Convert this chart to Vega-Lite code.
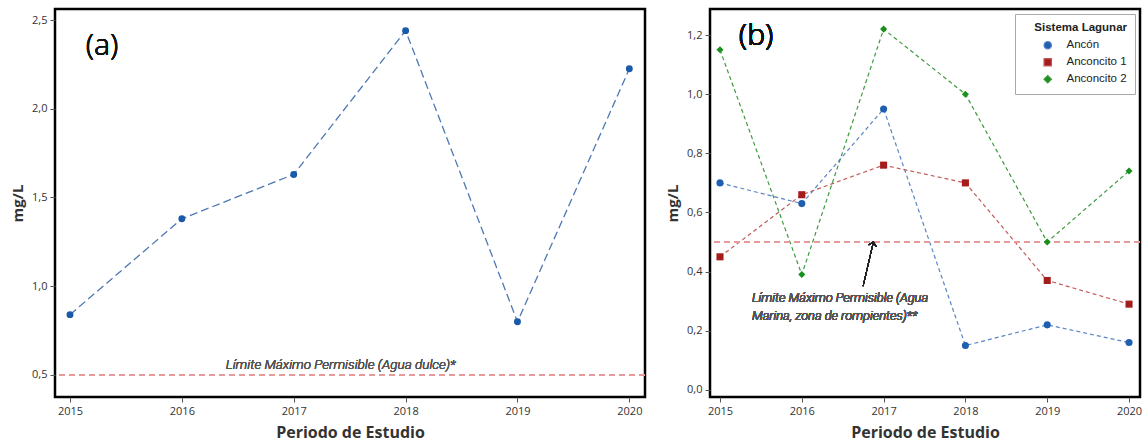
{
  "$schema": "https://vega.github.io/schema/vega-lite/v6.json",
  "background": "white",
  "padding": {"left": 9, "top": 7, "right": 4, "bottom": 2},
  "spacing": 17,
  "resolve": {
    "scale": {"fill": "independent", "stroke": "independent", "shape": "independent"},
    "legend": {"fill": "independent", "stroke": "independent", "shape": "independent"}
  },
  "config": {
    "view": {"stroke": "black", "strokeWidth": 2.5},
    "axis": {
      "grid": false,
      "domain": false,
      "tickColor": "#555",
      "tickSize": 5,
      "labelPadding": 3,
      "labelFont": "Open Sans",
      "labelFontSize": 11,
      "labelColor": "#333",
      "titleFont": "Open Sans",
      "titleFontWeight": "bold",
      "titleColor": "#333"
    },
    "axisX": {"titleFontSize": 16, "titlePadding": 8},
    "axisY": {"titleFontSize": 15, "titlePadding": 6}
  },
  "datasets": {
    "a": [
      {"anio": 2015, "valor": 0.84},
      {"anio": 2016, "valor": 1.38},
      {"anio": 2017, "valor": 1.63},
      {"anio": 2018, "valor": 2.44},
      {"anio": 2019, "valor": 0.80},
      {"anio": 2020, "valor": 2.225}
    ],
    "b": [
      {"anio": 2015, "sistema": "Ancón", "valor": 0.70},
      {"anio": 2016, "sistema": "Ancón", "valor": 0.63},
      {"anio": 2017, "sistema": "Ancón", "valor": 0.95},
      {"anio": 2018, "sistema": "Ancón", "valor": 0.15},
      {"anio": 2019, "sistema": "Ancón", "valor": 0.22},
      {"anio": 2020, "sistema": "Ancón", "valor": 0.16},
      {"anio": 2015, "sistema": "Anconcito 1", "valor": 0.45},
      {"anio": 2016, "sistema": "Anconcito 1", "valor": 0.66},
      {"anio": 2017, "sistema": "Anconcito 1", "valor": 0.76},
      {"anio": 2018, "sistema": "Anconcito 1", "valor": 0.70},
      {"anio": 2019, "sistema": "Anconcito 1", "valor": 0.37},
      {"anio": 2020, "sistema": "Anconcito 1", "valor": 0.29},
      {"anio": 2015, "sistema": "Anconcito 2", "valor": 1.15},
      {"anio": 2016, "sistema": "Anconcito 2", "valor": 0.39},
      {"anio": 2017, "sistema": "Anconcito 2", "valor": 1.22},
      {"anio": 2018, "sistema": "Anconcito 2", "valor": 1.00},
      {"anio": 2019, "sistema": "Anconcito 2", "valor": 0.50},
      {"anio": 2020, "sistema": "Anconcito 2", "valor": 0.74}
    ]
  },
  "hconcat": [
    {
      "width": 590,
      "height": 388,
      "data": {"name": "a"},
      "layer": [
        {
          "mark": {"type": "line", "color": "#4d78b4", "strokeDash": [8, 4], "strokeWidth": 1.3},
          "encoding": {
            "x": {
              "field": "anio", "type": "quantitative",
              "scale": {"domain": [2014.866, 2020.14], "nice": false, "zero": false},
              "axis": {"values": [2015, 2016, 2017, 2018, 2019, 2020], "format": "d", "title": "Periodo de Estudio"}
            },
            "y": {
              "field": "valor", "type": "quantitative",
              "scale": {"domain": [0.376, 2.562], "nice": false, "zero": false},
              "axis": {"values": [0.5, 1, 1.5, 2, 2.5], "labelExpr": "replace(format(datum.value, '.1f'), '.', ',')", "title": "mg/L"}
            }
          }
        },
        {
          "mark": {"type": "point", "filled": true, "color": "#1a5aa8", "size": 48, "opacity": 1},
          "encoding": {
            "x": {"field": "anio", "type": "quantitative"},
            "y": {"field": "valor", "type": "quantitative"}
          }
        },
        {
          "mark": {"type": "rule", "color": "#e89a9a", "strokeDash": [6, 4], "strokeWidth": 1.3},
          "encoding": {"y": {"datum": 0.5, "type": "quantitative"}}
        },
        {
          "mark": {"type": "text", "text": "Límite Máximo Permisible (Agua dulce)*", "font": "Roboto", "fontStyle": "italic", "fontWeight": 300, "fontSize": 13.5, "fill": "#555", "align": "center", "baseline": "bottom", "dy": -3},
          "encoding": {"x": {"datum": 2017.42, "type": "quantitative"}, "y": {"datum": 0.5, "type": "quantitative"}}
        },
        {
          "mark": {"type": "text", "text": "(a)", "font": "Noto Sans", "fontWeight": 300, "fontSize": 30, "fill": "#111", "align": "left", "baseline": "middle"},
          "encoding": {"x": {"datum": 2015.14, "type": "quantitative"}, "y": {"datum": 2.354, "type": "quantitative"}}
        }
      ]
    },
    {
      "width": 430,
      "height": 388,
      "data": {"name": "b"},
      "layer": [
        {
          "mark": {"type": "line", "strokeDash": [4, 3], "strokeWidth": 1.2},
          "encoding": {
            "x": {
              "field": "anio", "type": "quantitative",
              "scale": {"domain": [2014.878, 2020.134], "nice": false, "zero": false},
              "axis": {"values": [2015, 2016, 2017, 2018, 2019, 2020], "format": "d", "title": "Periodo de Estudio"}
            },
            "y": {
              "field": "valor", "type": "quantitative",
              "scale": {"domain": [-0.024, 1.288], "nice": false, "zero": false},
              "axis": {"values": [0, 0.2, 0.4, 0.6, 0.8, 1.0, 1.2], "labelExpr": "replace(format(datum.value, '.1f'), '.', ',')", "title": "mg/L"}
            },
            "stroke": {
              "field": "sistema", "type": "nominal",
              "scale": {"domain": ["Ancón", "Anconcito 1", "Anconcito 2"], "range": ["#5a84c6", "#c25a5a", "#3f9a3f"]},
              "legend": {
                "title": "Sistema Lagunar",
                "orient": "top-right",
                "offset": 5,
                "padding": 8,
                "strokeColor": "#aaa",
                "fillColor": "white",
                "titleFont": "Liberation Sans",
                "titleFontSize": 11.5,
                "titleFontWeight": "bold",
                "titleColor": "#222",
                "titleAnchor": "end",
                "titlePadding": 6,
                "labelFont": "Liberation Sans",
                "labelFontSize": 11.5,
                "labelColor": "#222",
                "labelExpr": "datum.label + '\u00a0\u00a0\u00a0\u00a0\u00a0\u00a0\u00a0\u00a0\u00a0\u00a0\u00a0\u00a0\u00a0\u00a0'",
                "symbolSize": 55,
                "symbolStrokeWidth": 1.2,
                "symbolOffset": 19,
                "labelOffset": 13,
                "rowPadding": 4
              }
            }
          }
        },
        {
          "mark": {"type": "rule", "color": "#e89a9a", "strokeDash": [6, 4], "strokeWidth": 1.3},
          "encoding": {"y": {"datum": 0.5, "type": "quantitative"}}
        },
        {
          "mark": {"type": "point", "filled": true, "size": 50, "opacity": 1},
          "encoding": {
            "x": {"field": "anio", "type": "quantitative"},
            "y": {"field": "valor", "type": "quantitative"},
            "shape": {
              "field": "sistema", "type": "nominal",
              "scale": {"domain": ["Ancón", "Anconcito 1", "Anconcito 2"], "range": ["circle", "square", "diamond"]}
            },
            "fill": {
              "field": "sistema", "type": "nominal",
              "scale": {"domain": ["Ancón", "Anconcito 1", "Anconcito 2"], "range": ["#1f5fb0", "#a51c1c", "#18901c"]}
            }
          }
        },
        {
          "mark": {"type": "rule", "color": "#222", "strokeWidth": 1},
          "encoding": {
            "x": {"datum": 2016.75, "type": "quantitative"},
            "y": {"datum": 0.351, "type": "quantitative"},
            "x2": {"datum": 2016.875},
            "y2": {"datum": 0.5}
          }
        },
        {
          "mark": {"type": "point", "shape": "M-1,1L0,0L1,1", "filled": false, "stroke": "#222", "strokeWidth": 1, "size": 60, "angle": 14, "opacity": 1},
          "encoding": {"x": {"datum": 2016.875, "type": "quantitative"}, "y": {"datum": 0.5, "type": "quantitative"}}
        },
        {
          "mark": {"type": "text", "text": ["Límite Máximo Permisible (Agua", "Marina, zona de rompientes)**"], "font": "Roboto", "fontStyle": "italic", "fontWeight": 300, "fontSize": 12.8, "fill": "#555", "align": "left", "baseline": "top", "lineHeight": 18},
          "encoding": {"x": {"datum": 2015.39, "type": "quantitative"}, "y": {"datum": 0.331, "type": "quantitative"}}
        },
        {
          "mark": {"type": "text", "text": "(b)", "font": "Noto Sans", "fontWeight": 300, "fontSize": 30, "fill": "#111", "align": "left", "baseline": "middle"},
          "encoding": {"x": {"datum": 2015.23, "type": "quantitative"}, "y": {"datum": 1.196, "type": "quantitative"}}
        }
      ]
    }
  ]
}
